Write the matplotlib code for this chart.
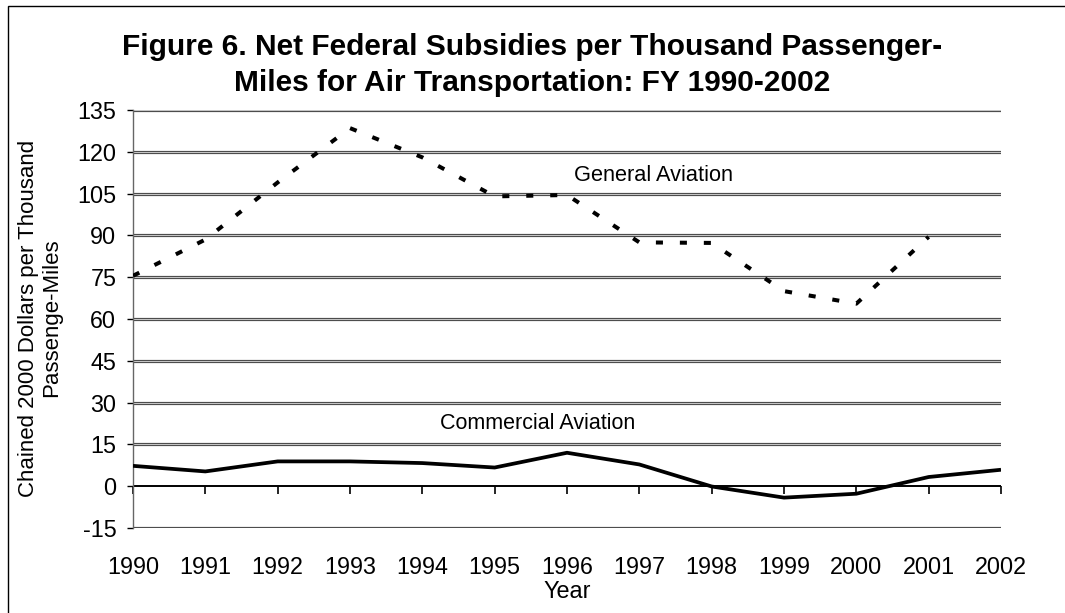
import numpy as np
import matplotlib
matplotlib.use("Agg")
import matplotlib.pyplot as plt
from matplotlib.patches import Rectangle

plt.rcParams['font.family'] = ['Liberation Sans', 'DejaVu Sans']

years = [1990, 1991, 1992, 1993, 1994, 1995, 1996, 1997, 1998, 1999, 2000, 2001, 2002]
general_aviation = [75.5, 88.5, 109, 128.5, 118, 104, 104.5, 87.5, 87.3, 70, 65.5, 89.5]
commercial_aviation = [7.3, 5.3, 8.9, 8.9, 8.3, 6.7, 12.0, 7.8, -0.1, -4.1, -2.7, 3.3, 5.9]
y_ticks = [-15, 0, 15, 30, 45, 60, 75, 90, 105, 120, 135]

title = "Figure 6. Net Federal Subsidies per Thousand Passenger-\nMiles for Air Transportation: FY 1990-2002"
ylabel = "Chained 2000 Dollars per Thousand\nPassenge-Miles"
xlabel = "Year"

W, H = 1065, 613
fig = plt.figure(figsize=(W / 100, H / 100), dpi=100)
fig.patch.set_facecolor('white')

# outer frame
fig.add_artist(Rectangle((7.5 / W, -0.01), 1.2, 1 - 5.5 / H + 0.01, transform=fig.transFigure,
                         fill=False, edgecolor='black', linewidth=1.0))

L, R, T, B = 133, 1001, 110, 528
ax = fig.add_axes([L / W, 1 - B / H, (R - L) / W, (B - T) / H])
ax.set_xlim(years[0], years[-1])
ax.set_ylim(-15, 135)

# gridlines (double line look)
for yv in y_ticks:
    if yv == 0:
        continue
    ax.axhline(yv, color='#4d4d4d', lw=2.3, zorder=1)
    ax.axhline(yv, color='#c8c8c8', lw=0.7, zorder=1.1)

# zero axis line
ax.axhline(0, color='black', lw=1.4, zorder=1.2)

ax.plot(years[:len(general_aviation)], general_aviation, color='black', lw=2.9,
        dashes=(1.75, 4.2), dash_capstyle='butt', solid_joinstyle='round', zorder=3)
ax.plot(years, commercial_aviation, color='black', lw=2.7, solid_capstyle='butt',
        solid_joinstyle='round', zorder=3)

ax.text(1997.2, 111.5, "General Aviation", fontsize=15.7, ha='center', va='center')
ax.text(1995.6, 22.5, "Commercial Aviation", fontsize=15.5, ha='center', va='center')

for s in ['top', 'right']:
    ax.spines[s].set_visible(False)
ax.spines['left'].set_color('#666666')
ax.spines['left'].set_linewidth(1.0)
ax.spines['bottom'].set_position(('data', 0))
ax.spines['bottom'].set_visible(False)

ax.set_yticks(y_ticks)
ax.set_yticklabels([str(v) for v in y_ticks])
ax.set_xticks(years)
ax.set_xticklabels([str(y) for y in years])
ax.tick_params(axis='y', direction='out', length=4, width=1.0, color='black',
               labelsize=16.8, pad=8)
ax.tick_params(axis='x', direction='out', length=6, width=1.2, color='black',
               labelsize=16.8, pad=44)

fig.text((L + R) / 2 / W, 1 - 592 / H, xlabel, fontsize=16.8, ha='center', va='center')
fig.text(40 / W, 1 - 318 / H, ylabel, rotation=90, fontsize=16.0, ha='center', va='center',
         multialignment='center', linespacing=1.15)

fig.text(532 / W, 1 - 65 / H, title, fontsize=21.5, fontweight='bold', ha='center', va='center',
         linespacing=1.38)

fig.savefig("out.png", dpi=100, facecolor='white')
